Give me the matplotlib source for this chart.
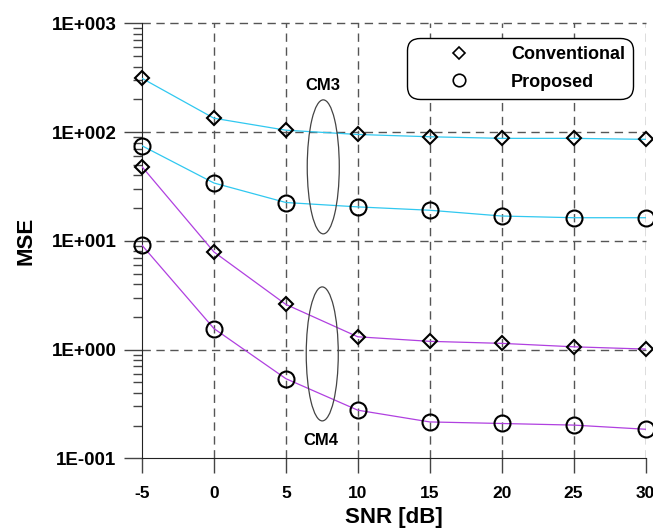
import matplotlib
matplotlib.use("Agg")
import matplotlib.pyplot as plt
from matplotlib.lines import Line2D
from matplotlib.patches import Ellipse
from matplotlib.ticker import LogLocator, NullFormatter, FixedLocator

plt.rcParams['font.family'] = ['Liberation Sans', 'DejaVu Sans']
plt.rcParams['font.weight'] = 'bold'

snr = [-5, 0, 5, 10, 15, 20, 25, 30]
cm3_conv = [312, 134, 104, 95, 90.5, 87.5, 87.5, 85.7]
cm3_prop = [74.8, 34, 22.5, 20.5, 19.1, 16.9, 16.3, 16.3]
cm4_conv = [48, 7.9, 2.6, 1.31, 1.19, 1.14, 1.06, 1.01]
cm4_prop = [9.1, 1.56, 0.54, 0.277, 0.216, 0.209, 0.202, 0.185]
xticks = [-5, 0, 5, 10, 15, 20, 25, 30]
yticks = [0.1, 1, 10, 100, 1000]
ytick_labels = ["1E-001", "1E+000", "1E+001", "1E+002", "1E+003"]

W, H = 653, 532
fig = plt.figure(figsize=(W / 100, H / 100), dpi=100)
ax = fig.add_axes([142 / W, (H - 458.3) / H, (645.5 - 142) / W, (458.3 - 23.3) / H])

cyan = '#30c8f0'
purple = '#b040e0'

ax.set_yscale('log')
ax.set_xlim(-5, 30)
ax.set_ylim(0.1, 1000)

for ys, col, mk, ms in [(cm3_conv, cyan, 'D', 7.5), (cm3_prop, cyan, 'o', 11.5),
                        (cm4_conv, purple, 'D', 7.5), (cm4_prop, purple, 'o', 11.5)]:
    ax.plot(snr, ys, color=col, lw=0.9, zorder=3)
    ax.plot(snr, ys, linestyle='none', marker=mk, ms=ms, mfc='none', mec='black',
            mew=1.5, zorder=4, clip_on=False)

# grid
for xv in xticks[1:]:
    ax.axvline(xv, color='#555555', lw=1.0, ls=(0, (6, 4)), zorder=1)
for yv in [1, 10, 100, 1000]:
    ax.axhline(yv, color='#555555', lw=1.0, ls=(0, (6, 4)), zorder=1, clip_on=False)

ax.spines['top'].set_visible(False)
ax.spines['right'].set_visible(False)
ax.spines['left'].set_color('#222222')
ax.spines['bottom'].set_color('#222222')

ax.set_xticks(xticks)
ax.set_xticklabels([str(v) for v in xticks], fontsize=12.5, fontweight='bold')
ax.yaxis.set_major_locator(FixedLocator(yticks))
ax.set_yticklabels(ytick_labels, fontsize=13.5, fontweight='bold')
ax.yaxis.set_minor_locator(LogLocator(base=10, subs=range(2, 10)))
ax.yaxis.set_minor_formatter(NullFormatter())
ax.tick_params(axis='y', which='major', length=13, width=1, color='#444444', pad=5.5)
ax.tick_params(axis='y', which='minor', length=6.5, width=1, color='#444444')
ax.tick_params(axis='x', which='major', length=11, width=1, color='#444444', pad=9)

ax.set_xlabel('SNR [dB]', fontsize=16, fontweight='bold', labelpad=4)
ax.set_ylabel('MSE', fontsize=16, fontweight='bold', labelpad=10.5)

# annotations
ax.text(7.55, 268, 'CM3', fontsize=12, fontweight='bold', ha='center', va='center')
ax.text(7.45, 0.147, 'CM4', fontsize=12, fontweight='bold', ha='center', va='center')
for cx, cy in [(0.360, 0.670), (0.358, 0.240)]:
    ax.add_patch(Ellipse((cx, cy), 32 / 503, 134 / 435, transform=ax.transAxes,
                         fill=False, ec='#444444', lw=0.9, zorder=5))

handles = [Line2D([], [], ls='none', marker='D', ms=6, mfc='none', mec='black', mew=1.2),
           Line2D([], [], ls='none', marker='o', ms=9, mfc='none', mec='black', mew=1.2)]
leg = fig.legend(handles, ['Conventional', 'Proposed'], loc='upper right',
                 bbox_to_anchor=(633 / W, 1 - 37.7 / H), borderaxespad=0,
                 prop={'family': 'Liberation Sans', 'weight': 'bold', 'size': 13},
                 handlelength=4.8, handletextpad=0.5, borderpad=0.45, labelspacing=0.6,
                 frameon=True, fancybox=True)
fr = leg.get_frame()
fr.set_edgecolor('black')
fr.set_linewidth(1.0)
fr.set_alpha(1)
fr.set_boxstyle('round,pad=0,rounding_size=0.7')

fig.savefig('out.png', dpi=100)
